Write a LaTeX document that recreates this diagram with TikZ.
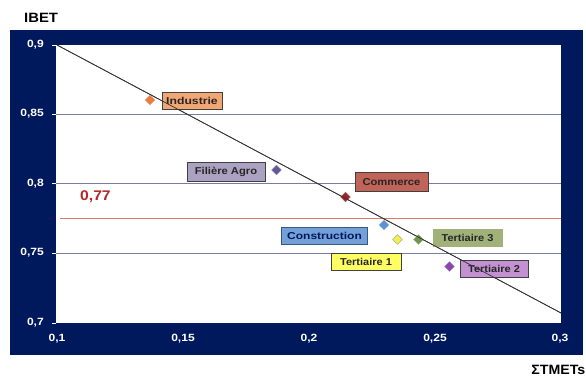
\documentclass[tikz,border=0pt]{standalone}
\usepackage{graphicx}
\usepackage{fontspec}
\setmainfont{Liberation Sans}
\usetikzlibrary{shapes.geometric}
\definecolor{navy}{RGB}{0,24,92}
\definecolor{gridc}{RGB}{120,125,160}
\definecolor{refred}{RGB}{225,120,105}
\definecolor{valred}{RGB}{178,40,40}
\definecolor{indF}{RGB}{242,166,115}\definecolor{indD}{RGB}{232,125,62}
\definecolor{agrF}{RGB}{170,162,192}\definecolor{agrD}{RGB}{100,88,150}
\definecolor{comF}{RGB}{192,100,90}\definecolor{comD}{RGB}{150,40,45}
\definecolor{conF}{RGB}{115,160,215}\definecolor{conD}{RGB}{90,145,215}
\definecolor{t1F}{RGB}{255,255,100}\definecolor{t1D}{RGB}{240,240,80}
\definecolor{t3F}{RGB}{160,178,122}\definecolor{t3D}{RGB}{110,150,80}
\definecolor{t2F}{RGB}{195,145,210}\definecolor{t2D}{RGB}{140,70,170}
% slightly widened lettering used throughout the chart
\newcommand\wide[2][1.22]{\scalebox{#1}[1]{#2}}
\begin{document}
\begin{tikzpicture}[x=1pt,y=-1pt,
  tick/.style={text=white,font=\bfseries\fontsize{10.5}{12}\selectfont,inner sep=0pt},
  tag/.style={draw=black!75,line width=0.6pt,inner sep=0pt,minimum height=17pt,
     font=\bfseries\fontsize{10}{12}\selectfont,text=black!85},
  pt/.style={diamond,minimum size=10pt,inner sep=0pt,draw=#1!70!white,line width=0.4pt,fill=#1},
  title/.style={font=\bfseries\fontsize{13.5}{15}\selectfont,inner sep=0pt}]
\useasboundingbox (0,0) rectangle (586,379);
\fill[white] (0,0) rectangle (586,379);
% outer frame and plot area
\fill[navy] (10,30) rectangle (583,355);
\fill[white] (56,45) rectangle (561,323);
% horizontal grid
\foreach \yy in {114,183.5,253}
  \draw[gridc,line width=0.7pt] (56,\yy) -- (561,\yy);
% threshold line
\draw[refred,line width=0.8pt] (60,218) -- (561,218);
\node[text=valred,font=\bfseries\fontsize{14}{16}\selectfont,anchor=west,inner sep=0pt] (thr) at (80,197) {\wide[1.12]{0,77}};
% y tick labels
\foreach \yy/\lab in {45/{0,9},114/{0,85},183.5/{0,8},253/{0,75},323/{0,7}}{
  \node[tick,anchor=east] at (44,\yy) {\wide[1.15]{\lab}};
  \draw[white,line width=0.5pt] (52,\yy) -- (56,\yy);
}
% x tick labels
\foreach \xx/\lab in {57/{0,1},183/{0,15},309/{0,2},435/{0,25},560/{0,3}}
  \node[tick] at (\xx,339) {\wide[1.15]{\lab}};
% axis titles
\node[title,anchor=west] (ytitle) at (24,18) {\wide[1.1]{IBET}};
\node[title,anchor=east] (xtitle) at (585.5,370) {\wide[1.05]{ΣTMETs}};
% trend line
\coordinate (ta) at (57,45);
\coordinate (tb) at (561,313);
\draw[black!80,line width=0.7pt] (ta) -- (tb);
% data points
\node[pt=indD] (pind) at (150,100) {};
\node[pt=agrD] (pagr) at (276.5,170) {};
\node[pt=comD] (pcom) at (345.5,197) {};
\node[pt=conD] (pcon) at (384,225) {};
\node[pt=t1D,draw=black!40] (pt1) at (397.5,239.5) {};
\node[pt=t3D] (pt3) at (418.5,239.5) {};
\node[pt=t2D] (pt2) at (449.5,266.5) {};
% labels
\node[tag,fill=indF,minimum width=60pt] (lind) at (192,101) {\wide{Industrie}};
\node[tag,fill=agrF,minimum width=78pt,minimum height=19pt] (lagr) at (226,172) {\wide[1.12]{Filière Agro}};
\node[tag,fill=comF,minimum width=73pt,minimum height=19pt] (lcom) at (391.5,182) {\wide[1.12]{Commerce}};
\node[tag,fill=conF,draw=conD!60!black,minimum width=86pt,text=navy] (lcon) at (324.5,236) {\wide[1.2]{Construction}};
\node[tag,fill=t1F,minimum width=70pt] (lt1) at (366,261.5) {\wide[1.1]{Tertiaire 1}};
\node[tag,fill=t3F,draw=t3F,minimum width=69pt] (lt3) at (467.5,238) {\wide[1.1]{Tertiaire 3}};
\node[tag,fill=t2F,minimum width=68pt] (lt2) at (494,268.5) {\wide[1.1]{Tertiaire 2}};
% trend line passes over the labels it crosses
\draw[black!80,line width=0.7pt] (ta) -- (tb);
\end{tikzpicture}
\end{document}
